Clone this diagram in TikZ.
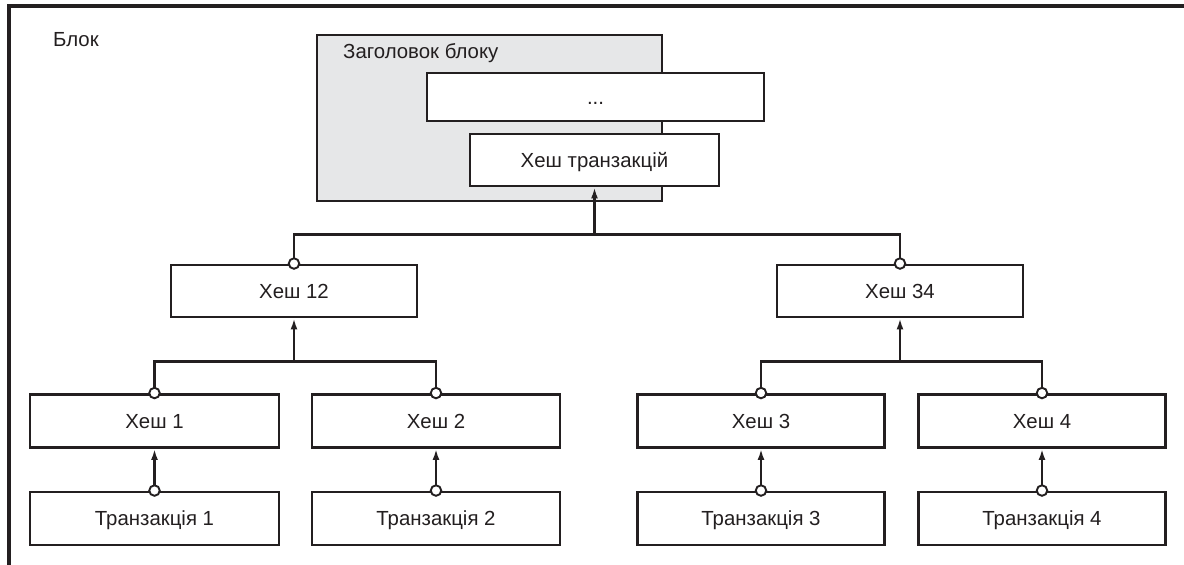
\documentclass[tikz,border=0pt]{standalone}
\usepackage{fontspec}
\setmainfont{Liberation Sans}
\usetikzlibrary{arrows.meta}
\definecolor{ink}{HTML}{231F20}
\definecolor{hdrgray}{HTML}{E6E7E8}
\tikzset{
  box/.style={draw=ink, line width=2.9pt, fill=white, inner sep=0pt,
    minimum height=52pt, text height=14.5pt, text depth=0pt,
    font=\fontsize{20.4}{24}\selectfont, text=ink},
  wire/.style={draw=ink, line width=2.1pt},
  arr/.style={wire, -{Latex[length=11pt,width=7pt]}},
  port/.style={circle, draw=ink, fill=white, line width=1.9pt,
    minimum size=10.5pt, inner sep=0pt},
  lbl/.style={anchor=base west, inner sep=0pt,
    font=\fontsize{20.4}{24}\selectfont, text=ink},
}
\begin{document}
\begin{tikzpicture}[x=1pt,y=-1pt]
\useasboundingbox (0,0) rectangle (1184,565);

% outer block frame
\draw[ink, line width=3.2pt, line join=miter] (9,565) -- (9,6) -- (1184,6);
\node[lbl] (blk) at (53,46) {Блок};

% block header
\node[box, fill=hdrgray, minimum width=345pt, minimum height=166pt] (hdr) at (489.5,118) {};
\node[lbl] (hdrt) at (343,58) {Заголовок блоку};
\node[box, minimum width=337pt, minimum height=48pt] (dots) at (595.5,97) {...};
\node[box, minimum width=249pt, minimum height=52pt] (htx) at (594.5,160) {Хеш транзакцій};

% intermediate hashes
\node[box, minimum width=246pt] (h12) at (294,291) {Хеш 12};
\node[box, minimum width=246pt] (h34) at (900,291) {Хеш 34};

% leaf hashes
\node[box, minimum width=249pt, minimum height=53pt] (h1) at (154.5,421) {Хеш 1};
\node[box, minimum width=248pt, minimum height=53pt] (h2) at (436,421) {Хеш 2};
\node[box, minimum width=247pt, minimum height=53pt] (h3) at (761,421) {Хеш 3};
\node[box, minimum width=247pt, minimum height=53pt] (h4) at (1042,421) {Хеш 4};

% transactions
\node[box, minimum width=249pt, minimum height=53pt] (t1) at (154.5,518.5) {Транзакція 1};
\node[box, minimum width=248pt, minimum height=53pt] (t2) at (436,518.5) {Транзакція 2};
\node[box, minimum width=247pt, minimum height=53pt] (t3) at (761,518.5) {Транзакція 3};
\node[box, minimum width=247pt, minimum height=53pt] (t4) at (1042,518.5) {Транзакція 4};

% junction points of the tree
\path (htx.south) ++(0,47) coordinate (j0);
\path (h12.south) ++(0,43) coordinate (j12);
\path (h34.south) ++(0,43) coordinate (j34);

% connectors
\draw[wire] (h12.north) |- (j0) -| (h34.north);
\draw[arr] (j0) -- (htx.south);
\draw[wire] (h1.north) |- (j12) -| (h2.north);
\draw[arr] (j12) -- (h12.south);
\draw[wire] (h3.north) |- (j34) -| (h4.north);
\draw[arr] (j34) -- (h34.south);
\foreach \i in {1,2,3,4}{
  \draw[arr] (t\i.north) -- (h\i.south);
}

% ports on the inputs
\foreach \n in {h12,h34,h1,h2,h3,h4,t1,t2,t3,t4}{
  \node[port] (p\n) at (\n.north) {};
}
\end{tikzpicture}
\end{document}
